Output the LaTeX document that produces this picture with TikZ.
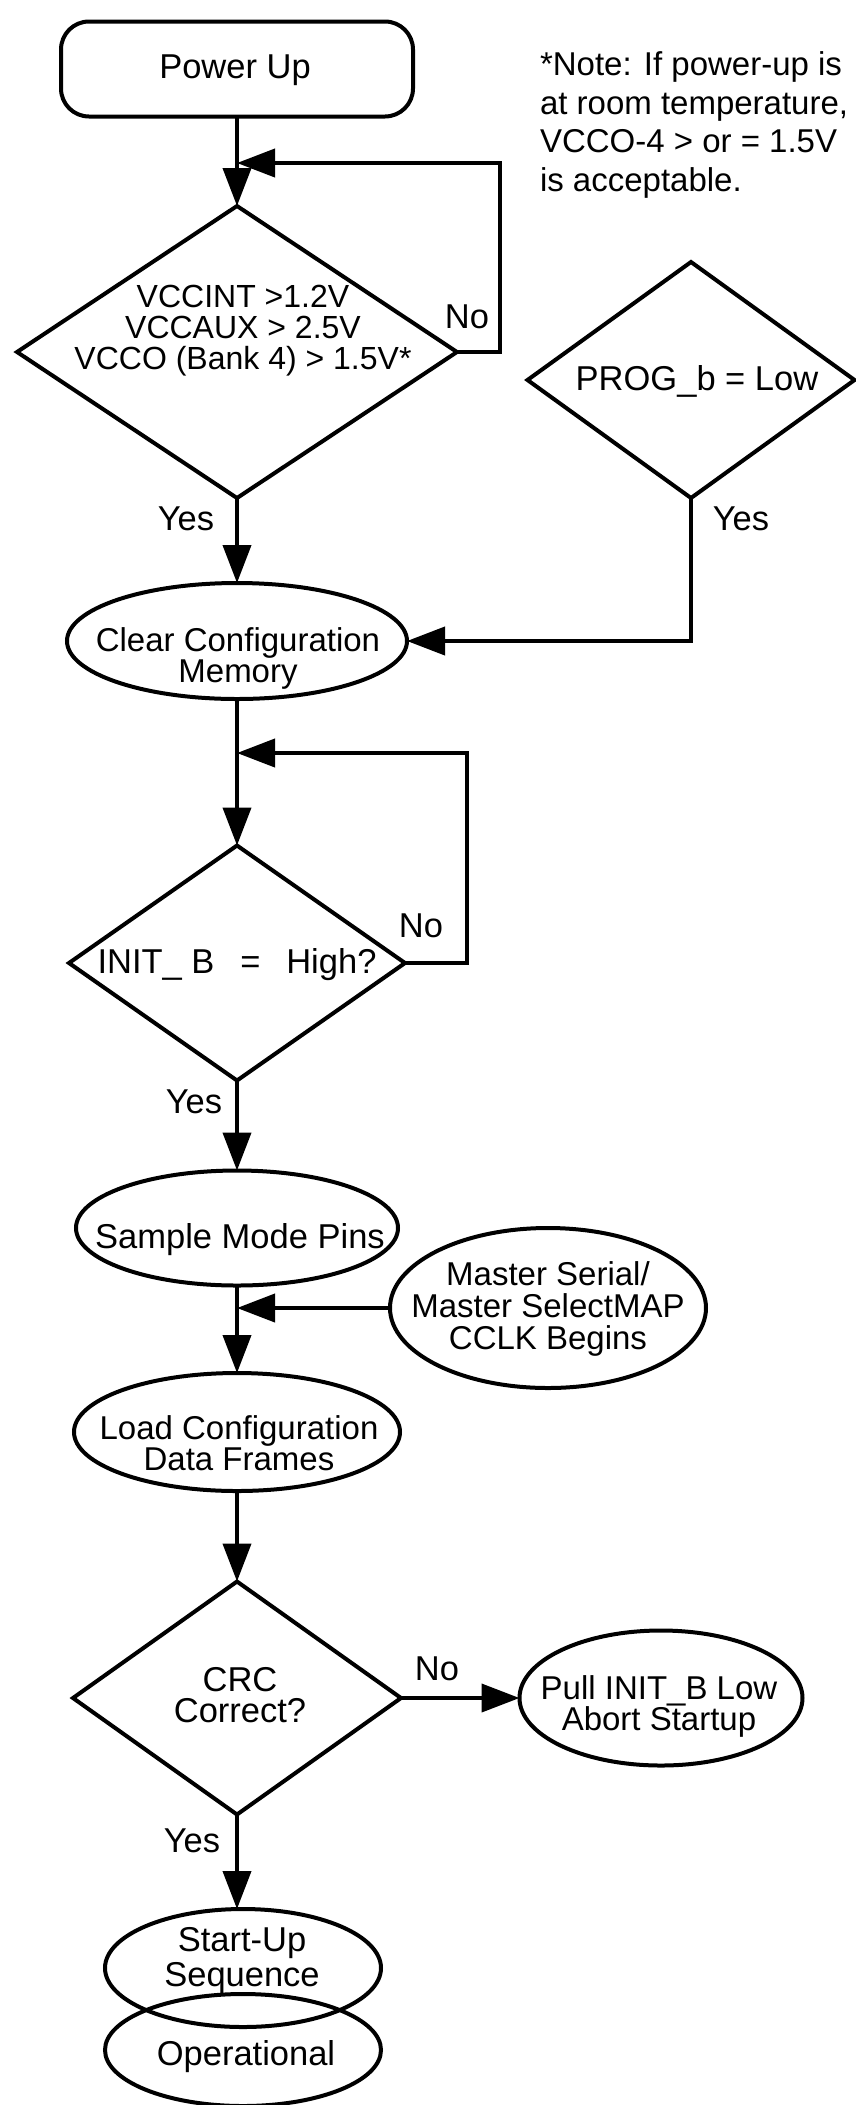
\documentclass[tikz,border=0pt]{standalone}
\usepackage{fontspec}
\setmainfont{Liberation Sans}
\usetikzlibrary{shapes.geometric,arrows.meta}
\begin{document}
\begin{tikzpicture}[x=1pt,y=-1pt,
  every node/.style={inner sep=0pt, outer sep=0pt},
  shp/.style={draw, line width=4pt},
  dia/.style={shp, shape=diamond},
  ell/.style={shp, shape=ellipse},
  lbl/.style={font=\fontsize{34.5}{30}\selectfont, align=center, anchor=north},
  yn/.style={font=\fontsize{34.5}{34.5}\selectfont, anchor=base},
  notetxt/.style={font=\fontsize{33}{39}\selectfont, anchor=base west},
  conn/.style={line width=4pt},
  arr/.style={conn, -{Triangle[length=38pt,width=28pt]}}
]
\useasboundingbox (0,0) rectangle (856,2105);

% shapes
\node[shp, rounded corners=28pt, minimum width=352pt, minimum height=95pt] (pu) at (237,69) {};
\node[dia, minimum width=440pt, minimum height=292pt] (d1) at (237,352) {};
\node[dia, minimum width=327pt, minimum height=236pt] (prog) at (691,380) {};
\node[ell, minimum width=340pt, minimum height=116pt] (clr) at (237,641) {};
\node[dia, minimum width=336pt, minimum height=235pt] (d2) at (237,963) {};
\node[ell, minimum width=322pt, minimum height=115pt] (smp) at (237,1228) {};
\node[ell, minimum width=316pt, minimum height=160pt] (ms) at (548,1308) {};
\node[ell, minimum width=326pt, minimum height=118pt] (ld) at (237,1432) {};
\node[dia, minimum width=328pt, minimum height=233pt] (d3) at (237,1698) {};
\node[ell, minimum width=283pt, minimum height=135pt] (pull) at (661,1698) {};
\node[ell, minimum width=276pt, minimum height=118pt] (su) at (243,1968) {};
\node[ell, minimum width=276pt, minimum height=112pt] (op) at (243,2050) {};

% texts
\node[lbl] (put) at (235,55) {Power Up};
\node[lbl, font=\fontsize{32}{31}\selectfont] (d1t) at (243,285) {VCCINT >1.2V\\VCCAUX > 2.5V\\VCCO (Bank 4) > 1.5V*};
\node[lbl] (progt) at (697,365) {PROG\_b = Low};
\node[lbl, font=\fontsize{33}{28}\selectfont] (clrt) at (238,628) {Clear Configuration\\Memory};
\node[lbl] (d2t) at (237,948) {INIT\_\ B\hspace{0.75em}=\hspace{0.75em}High?};
\node[lbl] (smpt) at (240,1223) {Sample Mode Pins};
\node[lbl, font=\fontsize{33}{32}\selectfont] (mst) at (548,1262) {Master Serial/\\Master SelectMAP\\CCLK Begins};
\node[lbl, font=\fontsize{33}{29}\selectfont] (ldt) at (239,1416) {Load Configuration\\Data Frames};
\node[lbl, font=\fontsize{34.5}{31}\selectfont] (d3t) at (240,1667) {CRC\\Correct?};
\node[lbl, font=\fontsize{33}{31}\selectfont] (pullt) at (659,1676) {Pull INIT\_B Low\\Abort Startup};
\node[lbl, font=\fontsize{34.5}{35}\selectfont] (sut) at (242,1927) {Start-Up\\Sequence};
\node[lbl] (opt) at (246,2040) {Operational};

% note
\node[notetxt] (n1) at (540,75) {*Note: If power-up is};
\node[notetxt] (n2) at (540,114) {at room temperature,};
\node[notetxt] (n3) at (540,152) {VCCO-4 > or = 1.5V};
\node[notetxt] (n4) at (540,191) {is acceptable.};

% yes/no labels
\node[yn] (ny1) at (467,328) {No};
\node[yn] (yy1) at (186,530) {Yes};
\node[yn] (yp) at (741,530) {Yes};
\node[yn] (ny2) at (421,937) {No};
\node[yn] (yy2) at (194,1113) {Yes};
\node[yn] (ny3) at (437,1680) {No};
\node[yn] (yy3) at (192,1852) {Yes};

% junctions
\coordinate (j1) at (237,163);
\coordinate (j2) at (237,753);
\coordinate (j3) at (237,1308);

% connectors
\draw[arr] (pu.south) -- (d1.north);
\draw[arr] (d1.east) -- ++(43,0) |- (j1);
\draw[arr] (d1.south) -- (clr.north);
\draw[arr] (prog.south) |- (clr.east);
\draw[arr] (clr.south) -- (d2.north);
\draw[arr] (d2.east) -- ++(62,0) |- (j2);
\draw[arr] (d2.south) -- (smp.north);
\draw[arr] (smp.south) -- (ld.north);
\draw[arr] (ms.west) -- (j3);
\draw[arr] (ld.south) -- (d3.north);
\draw[arr] (d3.east) -- (pull.west);
\draw[arr] (d3.south) -- (d3.south |- su.north);
\end{tikzpicture}
\end{document}
